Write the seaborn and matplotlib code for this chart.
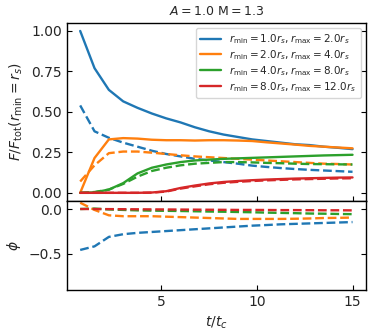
import matplotlib
matplotlib.use("Agg")
import matplotlib.pyplot as plt
import numpy as np
import pandas as pd
import seaborn as sns

# time axis t/t_c
t = [0.75 * k for k in range(1, 21)]

labels = [
    r"$r_{\rm min}=1.0r_s, r_{\rm max}=2.0r_s$",
    r"$r_{\rm min}=2.0r_s, r_{\rm max}=4.0r_s$",
    r"$r_{\rm min}=4.0r_s, r_{\rm max}=8.0r_s$",
    r"$r_{\rm min}=8.0r_s, r_{\rm max}=12.0r_s$",
]
colors = ["#1f77b4", "#ff7f0e", "#2ca02c", "#d62728"]

# F/F_tot, solid lines
flux_solid_1 = [1.00, 0.77, 0.636, 0.565, 0.525, 0.49, 0.46, 0.435, 0.405, 0.38,
                0.36, 0.345, 0.33, 0.32, 0.31, 0.30, 0.295, 0.285, 0.278, 0.27]
flux_solid_2 = [0.0, 0.215, 0.33, 0.338, 0.335, 0.328, 0.325, 0.325, 0.323, 0.325,
                0.325, 0.323, 0.32, 0.312, 0.305, 0.298, 0.29, 0.285, 0.28, 0.275]
flux_solid_3 = [0.0, 0.003, 0.02, 0.06, 0.12, 0.155, 0.175, 0.19, 0.20, 0.205,
                0.21, 0.213, 0.216, 0.219, 0.222, 0.225, 0.228, 0.231, 0.233, 0.235]
flux_solid_4 = [0.0, 0.0, 0.0, 0.0, 0.0, 0.002, 0.01, 0.03, 0.045, 0.058,
                0.067, 0.073, 0.078, 0.082, 0.085, 0.088, 0.09, 0.092, 0.094, 0.095]

# F/F_tot, dashed lines
flux_dash_1 = [0.54, 0.38, 0.34, 0.31, 0.285, 0.26, 0.24, 0.225, 0.21, 0.20,
               0.19, 0.18, 0.168, 0.16, 0.153, 0.147, 0.142, 0.138, 0.134, 0.13]
flux_dash_2 = [0.07, 0.17, 0.245, 0.255, 0.255, 0.248, 0.24, 0.232, 0.225, 0.22,
               0.215, 0.21, 0.205, 0.20, 0.195, 0.19, 0.185, 0.18, 0.178, 0.175]
flux_dash_3 = [0.0, 0.005, 0.02, 0.055, 0.10, 0.135, 0.155, 0.17, 0.18, 0.185,
               0.19, 0.19, 0.188, 0.185, 0.183, 0.18, 0.178, 0.177, 0.176, 0.175]
flux_dash_4 = [0.0, 0.0, 0.0, 0.0, 0.0, 0.001, 0.008, 0.026, 0.04, 0.053,
               0.062, 0.068, 0.073, 0.077, 0.08, 0.083, 0.085, 0.087, 0.089, 0.09]

# phi
phi_1 = [-0.455, -0.415, -0.31, -0.28, -0.265, -0.255, -0.245, -0.235, -0.225, -0.215,
         -0.205, -0.195, -0.185, -0.178, -0.17, -0.165, -0.16, -0.155, -0.15, -0.145]
phi_2 = [0.07, -0.01, -0.07, -0.08, -0.08, -0.08, -0.085, -0.09, -0.095, -0.10,
         -0.105, -0.11, -0.11, -0.11, -0.11, -0.108, -0.105, -0.10, -0.098, -0.095]
phi_3 = [0.0, 0.005, -0.005, -0.01, -0.015, -0.018, -0.02, -0.022, -0.025, -0.028,
         -0.03, -0.033, -0.036, -0.04, -0.043, -0.046, -0.05, -0.052, -0.055, -0.057]
phi_4 = [0.0, 0.0, -0.001, -0.002, -0.003, -0.004, -0.005, -0.006, -0.007, -0.008,
         -0.009, -0.01, -0.01, -0.011, -0.012, -0.012, -0.013, -0.014, -0.014, -0.015]

flux_solid = [flux_solid_1, flux_solid_2, flux_solid_3, flux_solid_4]
flux_dash = [flux_dash_1, flux_dash_2, flux_dash_3, flux_dash_4]
phis = [phi_1, phi_2, phi_3, phi_4]

sns.set_style("ticks")
plt.rcParams["font.family"] = ["DejaVu Sans"]
plt.rcParams["xtick.direction"] = "in"
plt.rcParams["ytick.direction"] = "in"

fig, (ax1, ax2) = plt.subplots(
    2, 1, figsize=(3.74, 3.36), dpi=100, sharex=True,
    gridspec_kw={"height_ratios": [2, 1], "hspace": 0},
)
fig.subplots_adjust(left=0.178, right=0.979, top=0.932, bottom=0.137)

lw = 1.7
for i in range(4):
    sns.lineplot(x=t, y=flux_solid[i], ax=ax1, color=colors[i], lw=lw, label=labels[i])
    sns.lineplot(x=t, y=flux_dash[i], ax=ax1, color=colors[i], lw=lw, linestyle="--")
    sns.lineplot(x=t, y=phis[i], ax=ax2, color=colors[i], lw=lw, linestyle="--")

ax1.set_ylim(-0.05, 1.05)
ax1.set_yticks([0.0, 0.25, 0.5, 0.75, 1.0])
ax2.set_ylim(-0.9, 0.09)
ax2.set_yticks([-0.5, 0.0])
ax2.set_xticks([5, 10, 15])

for ax in (ax1, ax2):
    ax.tick_params(axis="both", which="major", direction="in", right=True, top=False,
                   left=True, bottom=True, labelsize=10, length=3.5, width=0.8,
                   color="black")
    for s in ax.spines.values():
        s.set_visible(True)
        s.set_linewidth(1.0)
        s.set_color("black")

ax1.set_title(r"$A=1.0$ M$=1.3$", fontsize=9)
ax1.set_ylabel(r"$F/F_{\rm tot}(r_{\rm min}=r_s)$", fontsize=10)
ax2.set_ylabel(r"$\phi$", fontsize=10)
ax2.set_xlabel(r"$t/t_c$", fontsize=10)
ax1.legend(loc="upper right", fontsize=7.5, labelspacing=0.2)

fig.savefig("out.png", dpi=100)
